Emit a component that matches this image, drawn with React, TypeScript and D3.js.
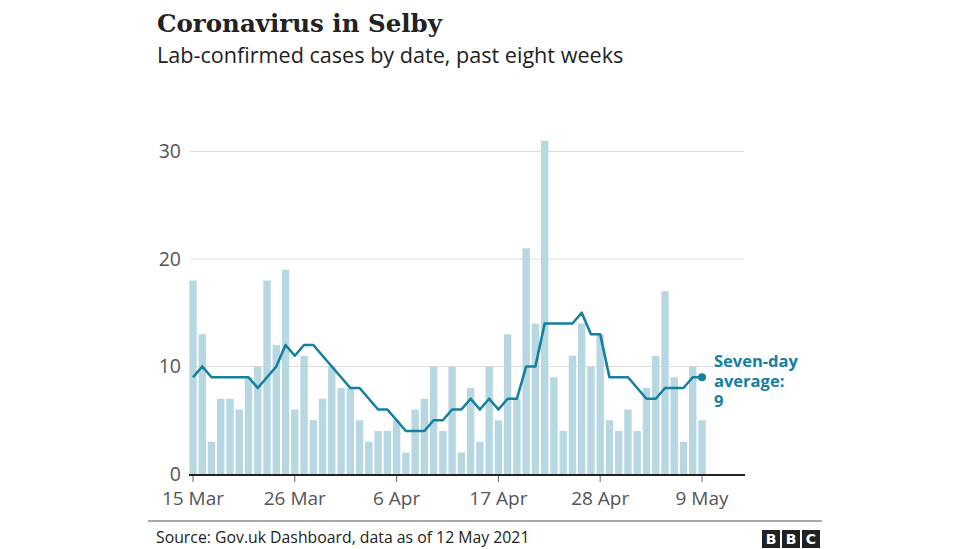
import * as d3 from 'd3'

// daily lab-confirmed cases, 15 Mar – 9 May 2021
const cases = [
  18, 13, 3, 7, 7, 6, 9, 10, 18, 12,
  19, 6, 11, 5, 7, 10, 8, 8, 5, 3,
  4, 4, 5, 2, 6, 7, 10, 4, 10, 2,
  8, 3, 10, 5, 13, 7, 21, 14, 31, 9,
  4, 11, 14, 10, 13, 5, 4, 6, 4, 8,
  11, 17, 9, 3, 10, 5,
]

// seven-day average
const average = [
  9, 10, 9, 9, 9, 9, 9, 8, 9, 10,
  12, 11, 12, 12, 11, 10, 9, 8, 8, 7,
  6, 6, 5, 4, 4, 4, 5, 5, 6, 6,
  7, 6, 7, 6, 7, 7, 10, 10, 14, 14,
  14, 14, 15, 13, 13, 9, 9, 9, 8, 7,
  7, 8, 8, 8, 9, 9,
]

const startDate = new Date(2021, 2, 15)
const dates = cases.map((_, i) => d3.timeDay.offset(startDate, i))

const xTickDates = ['2021-03-15', '2021-03-26', '2021-04-06', '2021-04-17', '2021-04-28', '2021-05-09']
const xTickLabels = ['15 Mar', '26 Mar', '6 Apr', '17 Apr', '28 Apr', '9 May']
const yTicks = [0, 10, 20, 30]

const W = 976
const H = 549
const sans = '"Open Sans", "Noto Sans", sans-serif'
const teal = '#1380a1'
const barColor = '#b7d8e2'

export default function App() {
  const x = d3
    .scaleTime()
    .domain([startDate, dates[dates.length - 1]])
    .range([193, 702])
  const y = d3.scaleLinear().domain([0, 30]).range([474, 151.5])
  const barW = 7.4

  const line = d3
    .line<number>()
    .x((_, i) => x(dates[i]))
    .y((d) => y(d))

  const parse = d3.timeParse('%Y-%m-%d')
  const last = average.length - 1

  return (
    <div style={{ position: 'absolute', left: 0, top: 0 }}>
      <svg width={W} height={H} style={{ display: 'block', background: '#fff' }}>
        <text x={157} y={32} fontFamily='"DejaVu Serif", serif' fontWeight="bold" fontSize={24.5} fill="#222">
          Coronavirus in Selby
        </text>
        <text x={157} y={63} fontFamily={sans} fontSize={21.6} fill="#222">
          Lab-confirmed cases by date, past eight weeks
        </text>

        {/* grid + y labels */}
        {yTicks.map((t) => (
          <g key={t}>
            {t > 0 && <line x1={190} x2={744} y1={y(t)} y2={y(t)} stroke="#dcdcdc" strokeWidth={1} />}
            <text x={181} y={y(t)} dy="0.35em" textAnchor="end" fontFamily={sans} fontSize={19.5} fill="#555">
              {t}
            </text>
          </g>
        ))}

        {/* bars */}
        {cases.map((c, i) => (
          <rect key={i} x={x(dates[i]) - barW / 2} y={y(c)} width={barW} height={y(0) - y(c)} fill={barColor} />
        ))}

        {/* baseline + x ticks */}
        <line x1={189} x2={745} y1={y(0) + 1} y2={y(0) + 1} stroke="#222" strokeWidth={2} />
        {xTickDates.map((d, i) => {
          const px = x(parse(d) as Date)
          return (
            <g key={d}>
              <line x1={px} x2={px} y1={y(0) + 2} y2={y(0) + 8} stroke="#666" strokeWidth={1} />
              <text x={px} y={505} textAnchor="middle" fontFamily={sans} fontSize={19} fill="#555">
                {xTickLabels[i]}
              </text>
            </g>
          )
        })}

        {/* seven-day average */}
        <path d={line(average) ?? ''} fill="none" stroke={teal} strokeWidth={2.6} strokeLinejoin="round" />
        <circle cx={x(dates[last])} cy={y(average[last])} r={4} fill={teal} />
        <g fontFamily={sans} fontWeight="bold" fontSize={16.5} fill={teal}>
          <text x={714} y={367}>Seven-day</text>
          <text x={714} y={387}>average:</text>
          <text x={714} y={407}>{average[last]}</text>
        </g>

        {/* footer */}
        <line x1={148} x2={822} y1={521} y2={521} stroke="#555" strokeWidth={1.2} />
        <text x={156} y={543} fontFamily={sans} fontSize={15.8} fill="#222">
          Source: Gov.uk Dashboard, data as of 12 May 2021
        </text>
        {['B', 'B', 'C'].map((l, i) => (
          <g key={i}>
            <rect x={762 + i * 20} y={530} width={18} height={18} fill="#222" />
            <text x={771 + i * 20} y={544} textAnchor="middle" fontFamily='"DejaVu Sans", sans-serif' fontWeight="bold" fontSize={14} fill="#fff">
              {l}
            </text>
          </g>
        ))}
      </svg>
    </div>
  )
}
